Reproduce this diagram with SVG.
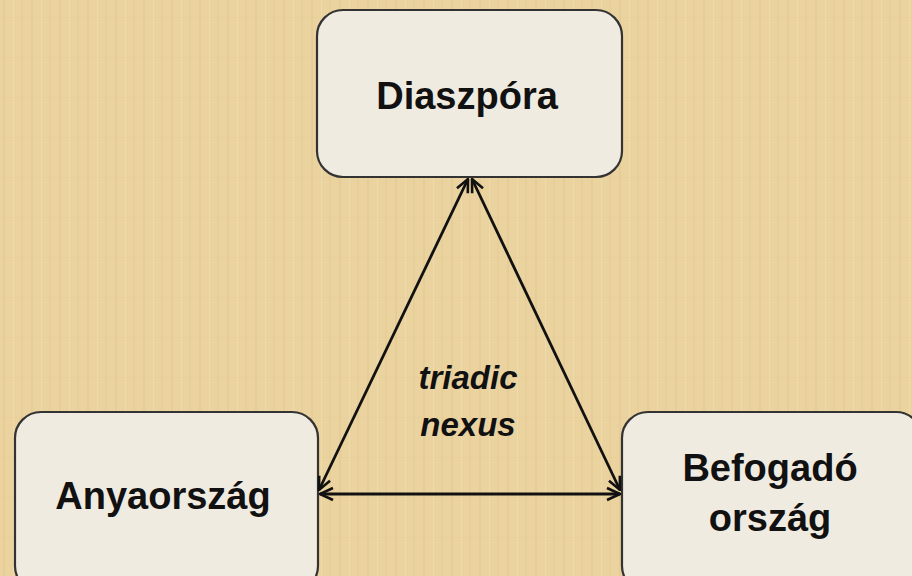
<svg xmlns="http://www.w3.org/2000/svg" width="912" height="576" viewBox="0 0 912 576">
<defs>
<pattern id="tex" width="28" height="40" patternUnits="userSpaceOnUse">
<rect width="28" height="40" fill="#EBD3A0"/>
<rect x="3" width="2" height="40" fill="#E2C58E" opacity="0.5"/>
<rect x="13" width="1" height="40" fill="#F3DEB2" opacity="0.7"/>
<rect x="21" width="2" height="40" fill="#E3C790" opacity="0.4"/>
<rect y="17" width="28" height="1" fill="#E3C790" opacity="0.3"/>
</pattern>
<marker id="arr" viewBox="0 0 16 16" refX="15" refY="8" markerWidth="16" markerHeight="16" markerUnits="userSpaceOnUse" orient="auto-start-reverse">
<path d="M2,2 L15,8 L2,14" fill="none" stroke="#111" stroke-width="2.6" stroke-linejoin="miter"/>
</marker>
</defs>
<style>
.box{fill:#EFEBE0;stroke:#333;stroke-width:2.2}
.lbl{font-family:"Liberation Sans",Arial,sans-serif;font-weight:bold;font-size:38px;fill:#111;text-anchor:middle}
.mid{font-family:"Liberation Sans",Arial,sans-serif;font-weight:bold;font-style:italic;font-size:33px;fill:#111;text-anchor:middle}
.con{stroke:#111;stroke-width:2.8;fill:none;marker-start:url(#arr);marker-end:url(#arr)}
</style>
<rect width="912" height="576" fill="url(#tex)"/>
<g id="diaszpora">
<rect class="box" x="317" y="10" width="305" height="167" rx="26"/>
<text class="lbl" x="467" y="109">Diaszpóra</text>
</g>
<g id="anyaorszag">
<rect class="box" x="15" y="412" width="303" height="180" rx="26"/>
<text class="lbl" x="163" y="509">Anyaország</text>
</g>
<g id="befogado">
<rect class="box" x="622" y="412" width="300" height="180" rx="26"/>
<text class="lbl" x="770" y="481">Befogadó</text>
<text class="lbl" x="770" y="531">ország</text>
</g>
<g id="connectors">
<line class="con" x1="319" y1="490" x2="468" y2="179"/>
<line class="con" x1="472" y1="179" x2="620" y2="490"/>
<line class="con" x1="320" y1="494" x2="620" y2="494"/>
</g>
<g id="label">
<text class="mid" x="468" y="389">triadic</text>
<text class="mid" x="468" y="436">nexus</text>
</g>
</svg>
